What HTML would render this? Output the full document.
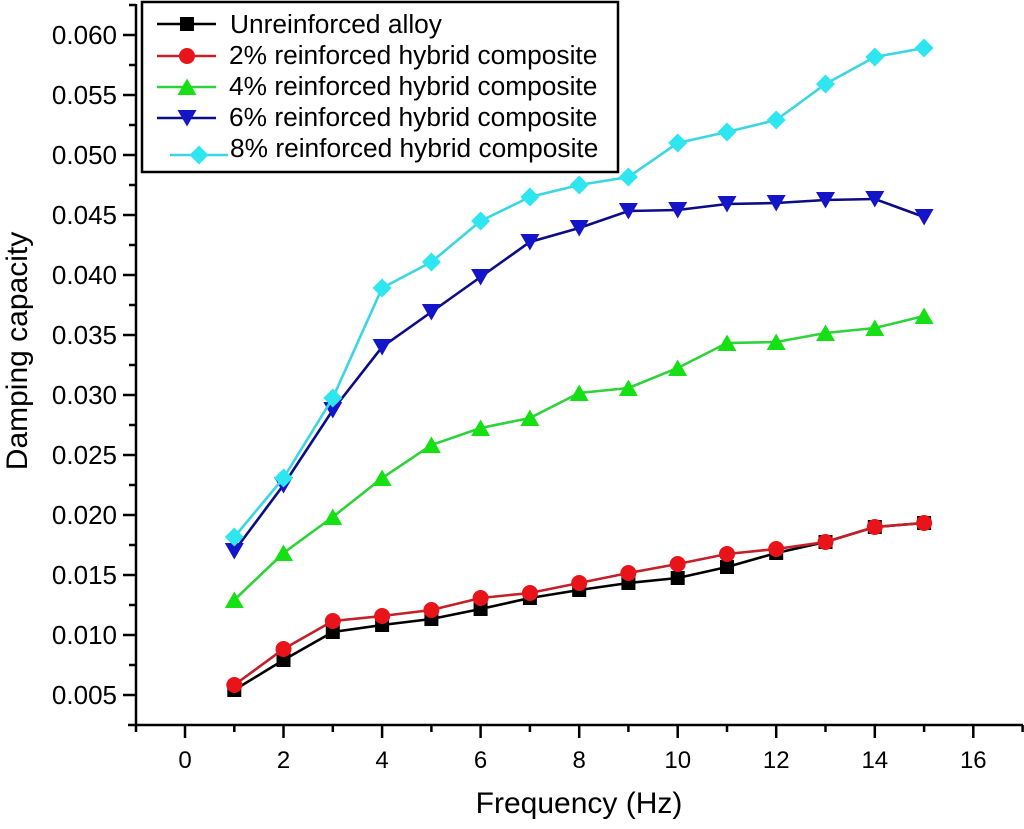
<!DOCTYPE html>
<html><head><meta charset="utf-8"><style>
html,body{margin:0;padding:0;background:#fff;}
svg{display:block;}
text{font-family:"Liberation Sans",Arial,sans-serif;fill:#000;}
</style></head><body>
<svg width="1024" height="829" viewBox="0 0 1024 829" xmlns="http://www.w3.org/2000/svg">
<rect width="1024" height="829" fill="#fff"/>
<!-- axes -->
<g stroke="#000" stroke-width="2.5" fill="none">
<line x1="136" y1="4" x2="136" y2="726"/>
<line x1="128" y1="725" x2="1023" y2="725"/>
<path d="M123 35H136M123 95H136M123 155H136M123 215H136M123 275H136M123 335H136M123 395H136M123 455H136M123 515H136M123 575H136M123 635H136M123 695H136"/>
<path d="M129 5H136M129 65H136M129 125H136M129 185H136M129 245H136M129 305H136M129 365H136M129 425H136M129 485H136M129 545H136M129 605H136M129 665H136"/>
<path d="M185 725V738M283.5 725V738M382.1 725V738M480.6 725V738M579.2 725V738M677.7 725V738M776.2 725V738M874.8 725V738M973.3 725V738"/>
<path d="M136 725V732M234.3 725V732M332.8 725V732M431.4 725V732M529.9 725V732M628.4 725V732M727 725V732M825.5 725V732M924.1 725V732M1022.6 725V732"/>
</g>
<g font-size="26" text-anchor="end">
<text x="117" y="44">0.060</text>
<text x="117" y="104">0.055</text>
<text x="117" y="164">0.050</text>
<text x="117" y="224">0.045</text>
<text x="117" y="284">0.040</text>
<text x="117" y="344">0.035</text>
<text x="117" y="404">0.030</text>
<text x="117" y="464">0.025</text>
<text x="117" y="524">0.020</text>
<text x="117" y="584">0.015</text>
<text x="117" y="644">0.010</text>
<text x="117" y="704">0.005</text>
</g>
<g font-size="24" text-anchor="middle">
<text x="185" y="768">0</text>
<text x="283.5" y="768">2</text>
<text x="382.1" y="768">4</text>
<text x="480.6" y="768">6</text>
<text x="579.2" y="768">8</text>
<text x="677.7" y="768">10</text>
<text x="776.2" y="768">12</text>
<text x="874.8" y="768">14</text>
<text x="973.3" y="768">16</text>
</g>
<text x="579" y="813" font-size="30" text-anchor="middle">Frequency (Hz)</text>
<text transform="translate(27,351) rotate(-90)" font-size="30" text-anchor="middle">Damping capacity</text>

<defs>
<rect id="sq" x="-7" y="-7" width="14" height="14" fill="#000"/>
<circle id="ci" r="8" fill="#e8141a"/>
<polygon id="tu" points="-9.5,8 9.5,8 0,-8.5" fill="#14e014"/>
<polygon id="td" points="-9.5,-8 9.5,-8 0,8.5" fill="#1414c8"/>
<polygon id="di" points="0,-9.5 9.5,0 0,9.5 -9.5,0" fill="#2ee6f0"/>
</defs>

<polyline fill="none" stroke="#000" stroke-width="2.6" points="234.3,690 283.5,660 332.8,632 382.1,625 431.4,619 480.6,609 529.9,598 579.2,590 628.4,583 677.7,578 727,567 776.2,553 825.5,542 874.8,527 924.1,523"/>
<g>
<use href="#sq" x="234.3" y="690"/><use href="#sq" x="283.5" y="660"/><use href="#sq" x="332.8" y="632"/><use href="#sq" x="382.1" y="625"/><use href="#sq" x="431.4" y="619"/><use href="#sq" x="480.6" y="609"/><use href="#sq" x="529.9" y="598"/><use href="#sq" x="579.2" y="590"/><use href="#sq" x="628.4" y="583"/><use href="#sq" x="677.7" y="578"/><use href="#sq" x="727" y="567"/><use href="#sq" x="776.2" y="553"/><use href="#sq" x="825.5" y="542"/><use href="#sq" x="874.8" y="527"/><use href="#sq" x="924.1" y="523"/>
</g>
<polyline fill="none" stroke="#c4202a" stroke-width="2.6" points="234.3,685 283.5,649 332.8,621 382.1,616 431.4,610 480.6,598 529.9,593 579.2,583 628.4,573 677.7,564 727,554 776.2,549 825.5,542 874.8,527 924.1,523"/>
<g>
<use href="#ci" x="234.3" y="685"/><use href="#ci" x="283.5" y="649"/><use href="#ci" x="332.8" y="621"/><use href="#ci" x="382.1" y="616"/><use href="#ci" x="431.4" y="610"/><use href="#ci" x="480.6" y="598"/><use href="#ci" x="529.9" y="593"/><use href="#ci" x="579.2" y="583"/><use href="#ci" x="628.4" y="573"/><use href="#ci" x="677.7" y="564"/><use href="#ci" x="727" y="554"/><use href="#ci" x="776.2" y="549"/><use href="#ci" x="825.5" y="542"/><use href="#ci" x="874.8" y="527"/><use href="#ci" x="924.1" y="523"/>
</g>
<polyline fill="none" stroke="#2ed23a" stroke-width="2.6" points="234.3,600 283.5,553 332.8,517 382.1,478 431.4,445 480.6,428 529.9,418 579.2,393 628.4,388 677.7,368 727,343 776.2,342 825.5,333 874.8,328 924.1,316"/>
<g>
<use href="#tu" x="234.3" y="600"/><use href="#tu" x="283.5" y="553"/><use href="#tu" x="332.8" y="517"/><use href="#tu" x="382.1" y="478"/><use href="#tu" x="431.4" y="445"/><use href="#tu" x="480.6" y="428"/><use href="#tu" x="529.9" y="418"/><use href="#tu" x="579.2" y="393"/><use href="#tu" x="628.4" y="388"/><use href="#tu" x="677.7" y="368"/><use href="#tu" x="727" y="343"/><use href="#tu" x="776.2" y="342"/><use href="#tu" x="825.5" y="333"/><use href="#tu" x="874.8" y="328"/><use href="#tu" x="924.1" y="316"/>
</g>
<polyline fill="none" stroke="#0c0c86" stroke-width="2.6" points="234.3,551 283.5,485 332.8,410 382.1,347 431.4,312 480.6,277 529.9,242 579.2,228 628.4,211 677.7,210 727,204 776.2,203 825.5,200 874.8,199 924.1,217"/>
<g>
<use href="#td" x="234.3" y="551"/><use href="#td" x="283.5" y="485"/><use href="#td" x="332.8" y="410"/><use href="#td" x="382.1" y="347"/><use href="#td" x="431.4" y="312"/><use href="#td" x="480.6" y="277"/><use href="#td" x="529.9" y="242"/><use href="#td" x="579.2" y="228"/><use href="#td" x="628.4" y="211"/><use href="#td" x="677.7" y="210"/><use href="#td" x="727" y="204"/><use href="#td" x="776.2" y="203"/><use href="#td" x="825.5" y="200"/><use href="#td" x="874.8" y="199"/><use href="#td" x="924.1" y="217"/>
</g>
<polyline fill="none" stroke="#3cd6e2" stroke-width="2.6" points="234.3,537 283.5,478 332.8,398 382.1,288 431.4,262 480.6,221 529.9,197 579.2,185 628.4,177 677.7,143 727,132 776.2,120 825.5,84 874.8,57 924.1,48"/>
<g>
<use href="#di" x="234.3" y="537"/><use href="#di" x="283.5" y="478"/><use href="#di" x="332.8" y="398"/><use href="#di" x="382.1" y="288"/><use href="#di" x="431.4" y="262"/><use href="#di" x="480.6" y="221"/><use href="#di" x="529.9" y="197"/><use href="#di" x="579.2" y="185"/><use href="#di" x="628.4" y="177"/><use href="#di" x="677.7" y="143"/><use href="#di" x="727" y="132"/><use href="#di" x="776.2" y="120"/><use href="#di" x="825.5" y="84"/><use href="#di" x="874.8" y="57"/><use href="#di" x="924.1" y="48"/>
</g>

<rect x="142" y="2" width="476" height="170" fill="#fff" stroke="#000" stroke-width="2.5"/>
<line x1="157" y1="24" x2="216" y2="24" stroke="#000" stroke-width="2.6"/><use href="#sq" x="187" y="24"/>
<line x1="157" y1="56" x2="216" y2="56" stroke="#c4202a" stroke-width="2.6"/><use href="#ci" x="187" y="56"/>
<line x1="157" y1="87" x2="216" y2="87" stroke="#2ed23a" stroke-width="2.6"/><use href="#tu" x="187" y="87"/>
<line x1="157" y1="118" x2="216" y2="118" stroke="#0c0c86" stroke-width="2.6"/><use href="#td" x="187" y="118"/>
<line x1="170" y1="155" x2="228" y2="155" stroke="#3cd6e2" stroke-width="2.6"/><use href="#di" x="199" y="155"/>
<g font-size="26.3">
<text x="230" y="33">Unreinforced alloy</text>
<text x="229" y="64">2% reinforced hybrid composite</text>
<text x="229" y="95">4% reinforced hybrid composite</text>
<text x="229" y="126">6% reinforced hybrid composite</text>
<text x="230" y="157">8% reinforced hybrid composite</text>
</g>
</svg>
</body></html>
